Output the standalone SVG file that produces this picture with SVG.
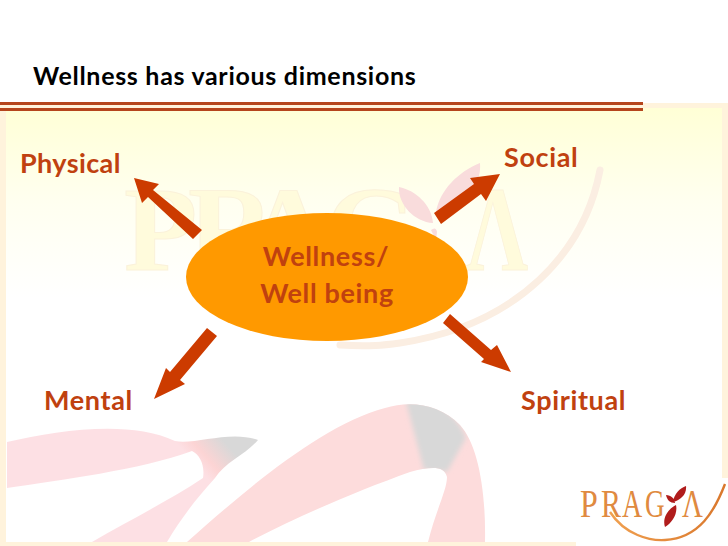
<svg xmlns="http://www.w3.org/2000/svg" width="728" height="546" viewBox="0 0 728 546">
<style>
text{font-family:"Lato","Liberation Sans",sans-serif;font-weight:700}
.lab{font-size:27px;letter-spacing:.65px;fill:#c0410f}
.arr{fill:#cc3b00}
.wm{font-family:"Liberation Serif",serif;font-size:120px;font-weight:700;fill:#fffbdc;stroke:#fbf2da;stroke-width:1}
.lg{font-family:"Liberation Serif",serif;font-size:40px;font-weight:400;fill:#e08a40}
</style>
<defs>
<linearGradient id="bg" x1="0" y1="0" x2="0" y2="1"><stop offset="0" stop-color="#ffffd6"/><stop offset=".5" stop-color="#fffff0"/><stop offset="1" stop-color="#ffffff"/></linearGradient>
<linearGradient id="lgc" x1="0" y1="0" x2="1" y2="0"><stop offset="0" stop-color="#f0a050"/><stop offset="1" stop-color="#d9772c"/></linearGradient>
<linearGradient id="tip" gradientUnits="userSpaceOnUse" x1="200" y1="470" x2="240" y2="435"><stop offset="0" stop-color="#fde0e4"/><stop offset=".25" stop-color="#fcd4d4"/><stop offset=".7" stop-color="#d8d8d8"/></linearGradient>
<clipPath id="bandB"><path d="M187 542C240 495 320 425 385 408C410 400 440 404 460 425C478 445 486 490 485 542H428C436 510 447 490 447 477C444 465 430 467 410 472C360 490 300 515 249 542Z"/></clipPath>
<filter id="soft" x="-20%" y="-20%" width="140%" height="140%"><feGaussianBlur stdDeviation="2.5"/></filter>
</defs>
<rect width="728" height="546" fill="#fff"/>
<g id="background">
<rect x="0" y="103" width="728" height="375" fill="#fff3dc"/>
<rect x="0" y="478" width="576" height="68" fill="#fff3dc"/>
<rect x="6" y="108" width="716" height="190" fill="url(#bg)"/>
<rect x="6" y="298" width="716" height="180" fill="#fff"/>
<rect x="6" y="478" width="570" height="64" fill="#fff"/>
<rect x="576" y="478" width="152" height="68" fill="#fff"/>
<path d="M7 442C60 430 130 420 175 441C195 445 230 430 258 440C245 455 225 462 215 478C195 500 180 520 167 542H92C130 520 170 500 203 478C205 465 200 455 192 451C140 470 60 480 7 488Z" fill="url(#tip)"/>
<path d="M187 542C240 495 320 425 385 408C410 400 440 404 460 425C478 445 486 490 485 542H428C436 510 447 490 447 477C444 465 430 467 410 472C360 490 300 515 249 542Z" fill="#fddcdc"/>
<g clip-path="url(#bandB)"><path d="M405 398C430 396 455 410 466 438L447 472L424 470Z" fill="#d8d8d8" filter="url(#soft)"/></g>
<text x="124" y="270" class="wm">P</text>
<text x="188" y="270" class="wm">R</text>
<text x="245" y="270" class="wm">A</text>
<text x="325" y="270" class="wm">G</text>
<text transform="translate(466 270) scale(.72 1)" class="wm">Λ</text>
<path d="M399 187C415 190 432 205 433 223C415 222 398 205 399 187ZM436 212C440 190 458 172 480 163C482 185 465 205 436 212ZM431 230Q436 226 437 232L436 240Z" fill="#f9dcdc"/>
<path d="M340 345C370 347 385 345 400 343C520 325 585 250 600 170" fill="none" stroke="#fbeee2" stroke-width="7" stroke-linecap="round"/>
</g>
<g id="title">
<rect x="0" y="102" width="643" height="3" fill="#b5451c"/>
<rect x="0" y="108" width="643" height="3" fill="#b5451c"/>
<text x="33" y="85" font-size="25" letter-spacing=".7" fill="#000">Wellness has various dimensions</text>
</g>
<g id="connectors">
<polygon class="arr" points="202,230 193,239 148,197 142,203 134,178 159,184 153,190"/>
<polygon class="arr" points="434,213 441,224 481,194 486,201 500,174 470,178 474,184"/>
<polygon class="arr" points="207,328 217,336 180,380 185,384 154,399 166,368 170,372"/>
<polygon class="arr" points="443,323 450,314 491,350 497,345 511,372 481,362 484,359"/>
</g>
<g id="node-center">
<ellipse cx="327" cy="277" rx="141" ry="64" fill="#ff9900"/>
<text x="326" y="266" text-anchor="middle" class="lab">Wellness/</text>
<text x="327" y="303" text-anchor="middle" class="lab">Well being</text>
</g>
<g id="node-physical"><text x="20" y="173" class="lab" style="letter-spacing:.4px">Physical</text></g>
<g id="node-social"><text x="504" y="167" class="lab">Social</text></g>
<g id="node-mental"><text x="44" y="410" class="lab">Mental</text></g>
<g id="node-spiritual"><text x="521" y="410" class="lab">Spiritual</text></g>
<g id="logo">
<text transform="translate(580 517) scale(.8 1)" class="lg">P</text>
<text transform="translate(601 517) scale(.75 1)" class="lg">R</text>
<text transform="translate(622 517) scale(.7 1)" class="lg">A</text>
<text transform="translate(645 517) scale(.68 1)" class="lg">G</text>
<text transform="translate(682 517) scale(.72 1)" class="lg">Λ</text>
<path d="M610 512C625 535 650 541 665 540C700 538 715 510 725 484" fill="none" stroke="url(#lgc)" stroke-width="2.4"/>
<path d="M673 502C674 494 680 488 686 486C687 494 681 500 673 502ZM666 495C671 495 675 499 675 503C670 503 667 500 666 495ZM676 505C678 514 672 523 665 527C662 518 668 509 676 505Z" fill="#b01c1c"/>
</g>
</svg>
